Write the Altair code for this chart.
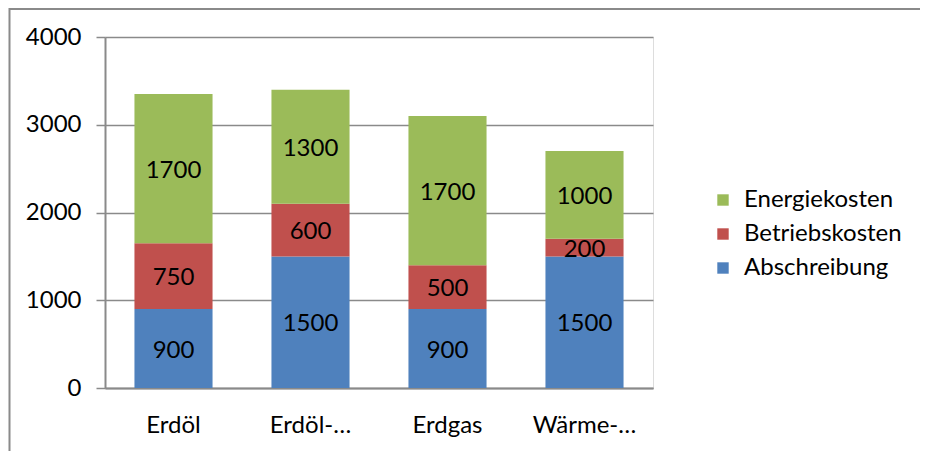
import altair as alt
import pandas as pd

categories = ["Erdöl", "Erdöl-…", "Erdgas", "Wärme-…"]
series = ["Abschreibung", "Betriebskosten", "Energiekosten"]
abschreibung = [900, 1500, 900, 1500]
betriebskosten = [750, 600, 500, 200]
energiekosten = [1700, 1300, 1700, 1000]
y_ticks = [0, 1000, 2000, 3000, 4000]

rows = []
for i, c in enumerate(categories):
    for rank, (s, vals) in enumerate(zip(series, [abschreibung, betriebskosten, energiekosten])):
        rows.append({"cat": c, "series": s, "value": vals[i], "rank": rank})
df = pd.DataFrame(rows)

FONT = "Lato"
FS = 24
GRAY = "#8a8a8a"
legend_order = ["Energiekosten", "Betriebskosten", "Abschreibung"]
colors = ["#9BBB59", "#C0504D", "#4F81BD"]

base = alt.Chart(df).transform_stack(
    stack="value", groupby=["cat"], sort=[alt.SortField("rank", order="ascending")], as_=["y0", "y1"]
).transform_calculate(mid="(datum.y0 + datum.y1) / 2")

xenc = alt.X("cat:N", sort=categories, title=None,
             scale=alt.Scale(paddingInner=0.43, paddingOuter=0.215),
             axis=alt.Axis(labelAngle=0, ticks=False, labelPadding=25, labelFontSize=FS,
                           labelFont=FONT, labelColor="black", domainColor=GRAY, domainWidth=2,
                           labelBaseline="top"))

yscale = alt.Scale(domain=[0, 4000], nice=False)

bars = base.mark_bar(stroke=None).encode(
    x=xenc,
    y=alt.Y("y0:Q", scale=yscale, title=None,
            axis=alt.Axis(values=y_ticks, format="d", grid=True, gridColor=GRAY, gridWidth=1.5,
                          tickSize=9, tickColor=GRAY, tickWidth=1.5, labelPadding=15,
                          labelFontSize=FS, labelFont=FONT, labelColor="black",
                          domainColor=GRAY, domainWidth=2)),
    y2="y1:Q",
    color=alt.Color("series:N", scale=alt.Scale(domain=legend_order, range=colors),
                    legend=alt.Legend(title=None, orient="none", legendX=606, legendY=151,
                                      symbolType="square", symbolSize=130, symbolStrokeWidth=0,
                                      labelFontSize=FS, labelFont=FONT, labelColor="black",
                                      labelOffset=9, rowPadding=10, padding=0)),
)

labels = base.mark_text(font=FONT, fontSize=FS, color="black", baseline="middle", dy=2).encode(
    x=alt.X("cat:N", sort=categories),
    y=alt.Y("mid:Q", scale=yscale),
    text=alt.Text("value:Q", format="d"),
)

frame_top = alt.Chart(pd.DataFrame({"a": [0]})).mark_rule(color=GRAY, strokeWidth=2).encode(
    x=alt.value(-96), x2=alt.value(900), y=alt.value(-28)
)
frame_left = alt.Chart(pd.DataFrame({"a": [0]})).mark_rule(color=GRAY, strokeWidth=2).encode(
    x=alt.value(-95.5), y=alt.value(-29), y2=alt.value(500)
)

chart = alt.layer(bars, labels, frame_top, frame_left).properties(
    width=548, height=351,
    autosize=alt.AutoSizeParams(type="none"),
    padding={"left": 97, "top": 29, "right": 267, "bottom": 63},
).configure_view(stroke=None).configure(background="white")

chart.save("out.html", embed_options={"renderer": "svg", "actions": False})
